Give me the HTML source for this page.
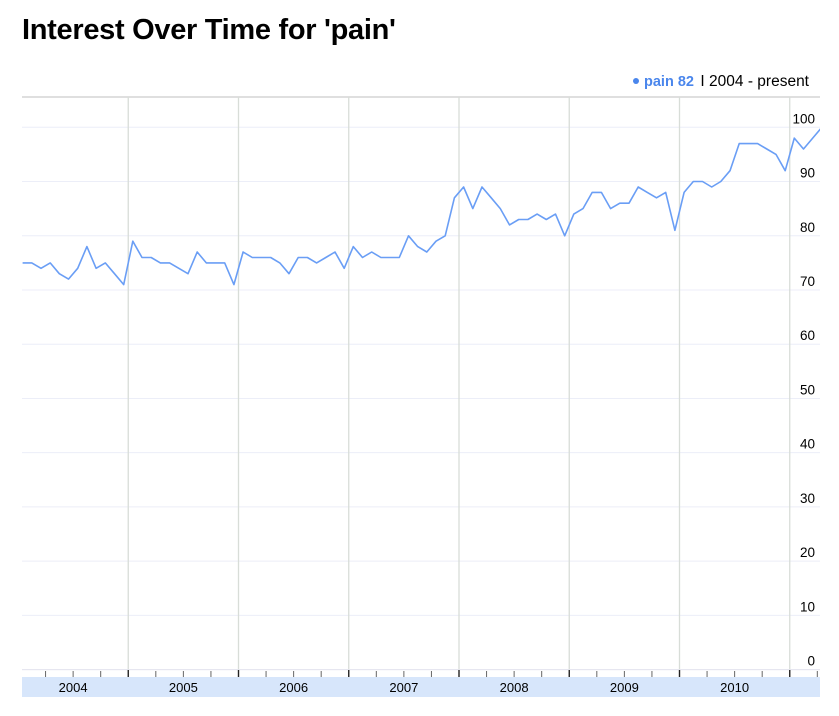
<!DOCTYPE html>
<html><head><meta charset="utf-8"><style>
body{margin:0;background:#fff;font-family:"Liberation Sans",sans-serif;}
#wrap{position:relative;width:839px;height:716px;overflow:hidden;}
h1{position:absolute;left:22px;top:14px;margin:0;font-size:29px;font-weight:bold;color:#000;letter-spacing:-0.3px;}
</style></head><body>
<div id="wrap">
<h1>Interest Over Time for 'pain'</h1>
<svg id="chart" width="839" height="716" style="position:absolute;left:0;top:0"></svg>
</div>
<script>
const years = ["2004","2005","2006","2007","2008","2009","2010"];
const yTicks = [0,10,20,30,40,50,60,70,80,90,100];
const values2004 = [75,75,74,75,73,72,74,78,74,75,73,71];
const values2005 = [79,76,76,75,75,74,73,77,75,75,75,71];
const values2006 = [77,76,76,76,75,73,76,76,75,76,77,74];
const values2007 = [78,76,77,76,76,76,80,78,77,79,80,87];
const values2008 = [89,85,89,87,85,82,83,83,84,83,84,80];
const values2009 = [84,85,88,88,85,86,86,89,88,87,88,81];
const values2010 = [88,90,90,89,90,92,97,97,97,96,95,92];
const values2011 = [98,96,98,100];
const series = values2004.concat(values2005,values2006,values2007,values2008,values2009,values2010,values2011);

const NS="http://www.w3.org/2000/svg";
const svg=document.getElementById('chart');
const L=22,R=820,TOP=97,Y0=669.6,Y100=127.3;
const yearStart=18.0, yearW=110.25;
function xMonth(i){return yearStart+(i+0.5)*yearW/12;}
function xYear(y){return yearStart+y*yearW;}
function yVal(v){return Y0-(v/100)*(Y0-Y100);}
function mk(tag,attrs){const e=document.createElementNS(NS,tag);for(const k in attrs)e.setAttribute(k,attrs[k]);svg.appendChild(e);return e;}

const defs=mk('defs',{});
const cp=document.createElementNS(NS,'clipPath');cp.setAttribute('id','plotclip');
const cr=document.createElementNS(NS,'rect');cr.setAttribute('x',L);cr.setAttribute('y',TOP);cr.setAttribute('width',R-L);cr.setAttribute('height',Y0-TOP);
cp.appendChild(cr);defs.appendChild(cp);

yTicks.forEach(t=>{
  const y=yVal(t);
  const g=mk('line',{x1:L,x2:R,y1:y,y2:y,stroke:'#eceef8','stroke-width':1});
  
  
  const tx=mk('text',{x:815,y:y-4,'text-anchor':'end','font-size':'13.5','fill':'#000','font-family':'Liberation Sans, sans-serif'});
  tx.textContent=t;
  
  
});
const tb=mk('line',{x1:L,x2:R,y1:TOP,y2:TOP,stroke:'#cccccc','stroke-width':1.3});



for(let i=1;i<=years.length;i++){
  const x=xYear(i);
  const vl=mk('line',{x1:x,x2:x,y1:TOP,y2:Y0,stroke:'#d8ddd8','stroke-width':1.3});
  
  
}

const bl=mk('line',{x1:L,x2:R,y1:Y0,y2:Y0,stroke:'#e4e4ee','stroke-width':1});



for(let q=1;q<=years.length*4+3;q++){
  const x=xYear(q/4);
  if(x<L||x>R)continue;
  const major=q%4===0;
  const tk=mk('line',{x1:x,x2:x,y1:major?670:671,y2:677,stroke:major?'#222':'#666','stroke-width':major?1.4:1});
  
  
}

const band=mk('rect',{x:L,y:677,width:R-L,height:20,fill:'#d7e6fb'});


years.forEach((yr,i)=>{
  const t=mk('text',{x:xYear(i)+yearW/2,y:692,'text-anchor':'middle','font-size':'13','fill':'#000','font-family':'Liberation Sans, sans-serif'});
  t.textContent=yr;
  
  
});

const pts=series.map((v,i)=>xMonth(i).toFixed(1)+','+yVal(v).toFixed(1)).join(' ');
const pl=mk('polyline',{points:pts,fill:'none',stroke:'#6a9ef5','stroke-width':1.6,'stroke-linejoin':'round','clip-path':'url(#plotclip)'});



const dot=mk('circle',{cx:636,cy:81,r:3,fill:'#4a86ec'});


const lg=mk('text',{x:644,y:86,'font-size':'14.5','font-weight':'bold','fill':'#4a86ec','font-family':'Liberation Sans, sans-serif'});
lg.textContent='pain 82';


const lr=mk('text',{x:809,y:86,'text-anchor':'end','font-size':'15.5','fill':'#000','font-family':'Liberation Sans, sans-serif'});
lr.textContent='I 2004 - present';


</script>
</body></html>
